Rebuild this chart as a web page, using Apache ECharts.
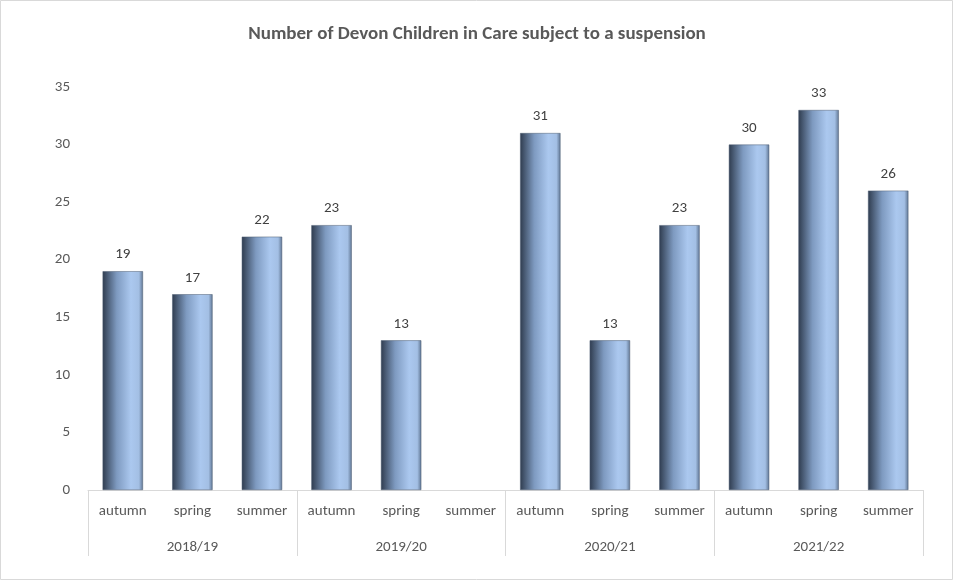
<!DOCTYPE html>
<html lang="en">
<head>
<meta charset="UTF-8">
<title>Devon suspensions</title>
<script src="https://cdn.jsdelivr.net/npm/echarts@6/dist/echarts.min.js"></script>
<style>body{margin:0}#main{width:954px;height:581px}</style>
</head>
<body>
<div id="main"></div>
<script>
var terms = ['autumn','spring','summer','autumn','spring','summer','autumn','spring','summer','autumn','spring','summer'];
var years = ['2018/19','2019/20','2020/21','2021/22'];
var values = [19,17,22,23,13,null,31,13,23,30,33,26];
var yTicks = [0,5,10,15,20,25,30,35];
var covidNote = 'school\nclosures\ndue to\nCOVID-19';

var myChart = echarts.init(document.getElementById('main'));
var font = 'Calibri, Carlito, "Liberation Sans", sans-serif';
var option = {
    backgroundColor: '#fff',
    title: {
        text: 'Number of Devon Children in Care subject to a suspension',
        left: 'center', top: 20,
        textStyle: { fontFamily: font, fontSize: 19, fontWeight: 'bold', color: '#595959' }
    },
    graphic: [{
        type: 'rect', shape: { x: 0.5, y: 0.5, width: 952, height: 579 },
        style: { fill: 'none', stroke: '#d9d9d9', lineWidth: 1 }
    }],
    grid: { left: 88, right: 31, top: 87, bottom: 91 },
    xAxis: [{
        type: 'category', data: terms, position: 'bottom',
        axisLine: { lineStyle: { color: '#d9d9d9' } },
        axisTick: { show: false },
        axisLabel: { color: '#595959', fontSize: 15, fontFamily: font, margin: 14 }
    }, {
        type: 'category', data: years, position: 'bottom',
        axisLine: { show: false },
        axisTick: { show: true, length: 66, lineStyle: { color: '#d9d9d9' } },
        axisLabel: { color: '#595959', fontSize: 15, fontFamily: font, margin: 50 }
    }],
    yAxis: {
        type: 'value', min: 0, max: 35, interval: 5,
        axisLine: { show: false }, axisTick: { show: false },
        splitLine: { show: false },
        axisLabel: { color: '#595959', fontSize: 15, fontFamily: font, margin: 18 }
    },
    series: [{
        type: 'bar', xAxisIndex: 0, data: values, barWidth: '58%',
        itemStyle: {
            borderColor: '#4a5a70', borderWidth: 0.5,
            color: new echarts.graphic.LinearGradient(0, 0, 1, 0, [
                { offset: 0, color: '#2f3c4f' },
                { offset: 0.35, color: '#7e9ac0' },
                { offset: 0.7, color: '#abc8ef' },
                { offset: 0.9, color: '#a3bfe4' },
                { offset: 1, color: '#5f7592' }
            ])
        },
        label: { show: true, position: 'top', distance: 9, color: '#404040', fontSize: 15, fontFamily: font },
        markPoint: {
            symbol: 'none',
            data: [{ coord: [5, 4], value: 0 }],
            label: { show: true, formatter: covidNote, color: '#7f7f7f', fontSize: 15, lineHeight: 21, fontFamily: font }
        }
    }]
};
myChart.setOption(option);
</script>
</body>
</html>
